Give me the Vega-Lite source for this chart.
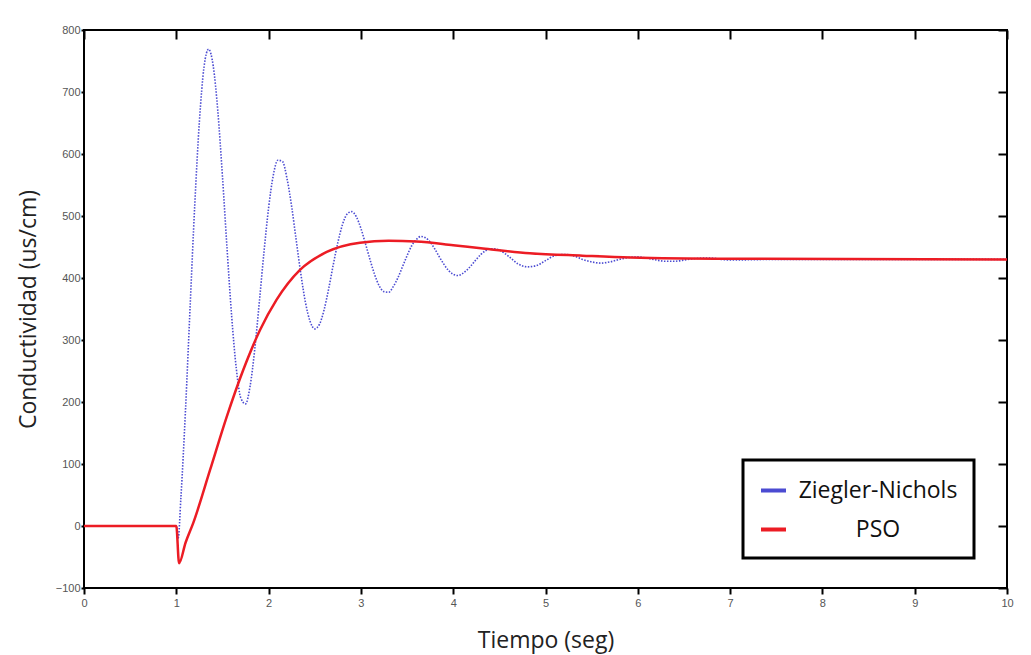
{
  "$schema": "https://vega.github.io/schema/vega-lite/v6.json",
  "width": 923,
  "height": 558,
  "autosize": {"type": "none"},
  "padding": {"left": 84, "top": 30, "right": 24, "bottom": 67},
  "background": "white",
  "datasets": {
    "zn": [
      {"t": 0, "y": 0}, {"t": 1.0, "y": 0}, {"t": 1.02, "y": -20}, {"t": 1.05, "y": 46},
      {"t": 1.10, "y": 188}, {"t": 1.15, "y": 355}, {"t": 1.20, "y": 518}, {"t": 1.25, "y": 652},
      {"t": 1.30, "y": 740}, {"t": 1.35, "y": 769}, {"t": 1.40, "y": 742}, {"t": 1.45, "y": 669},
      {"t": 1.50, "y": 564}, {"t": 1.55, "y": 447}, {"t": 1.60, "y": 338}, {"t": 1.65, "y": 254},
      {"t": 1.70, "y": 206}, {"t": 1.75, "y": 197}, {"t": 1.80, "y": 226}, {"t": 1.85, "y": 285},
      {"t": 1.90, "y": 362}, {"t": 1.95, "y": 442}, {"t": 2.00, "y": 513}, {"t": 2.05, "y": 565},
      {"t": 2.10, "y": 590}, {"t": 2.15, "y": 588}, {"t": 2.20, "y": 560}, {"t": 2.25, "y": 515},
      {"t": 2.30, "y": 460}, {"t": 2.35, "y": 406}, {"t": 2.40, "y": 360}, {"t": 2.45, "y": 330},
      {"t": 2.50, "y": 318}, {"t": 2.55, "y": 325}, {"t": 2.60, "y": 348}, {"t": 2.65, "y": 382},
      {"t": 2.70, "y": 421}, {"t": 2.75, "y": 457}, {"t": 2.80, "y": 486}, {"t": 2.85, "y": 503},
      {"t": 2.90, "y": 507}, {"t": 2.95, "y": 499}, {"t": 3.00, "y": 480}, {"t": 3.05, "y": 455},
      {"t": 3.10, "y": 429}, {"t": 3.15, "y": 405}, {"t": 3.20, "y": 387}, {"t": 3.25, "y": 378},
      {"t": 3.30, "y": 377}, {"t": 3.35, "y": 386}, {"t": 3.40, "y": 400}, {"t": 3.45, "y": 418},
      {"t": 3.50, "y": 436}, {"t": 3.55, "y": 452}, {"t": 3.60, "y": 462}, {"t": 3.65, "y": 467},
      {"t": 3.70, "y": 465}, {"t": 3.75, "y": 458}, {"t": 3.80, "y": 447}, {"t": 3.85, "y": 434},
      {"t": 3.90, "y": 422}, {"t": 3.95, "y": 412}, {"t": 4.00, "y": 406}, {"t": 4.05, "y": 404},
      {"t": 4.10, "y": 407}, {"t": 4.15, "y": 413}, {"t": 4.20, "y": 421}, {"t": 4.25, "y": 430},
      {"t": 4.30, "y": 438}, {"t": 4.35, "y": 444}, {"t": 4.40, "y": 447}, {"t": 4.45, "y": 447},
      {"t": 4.50, "y": 445}, {"t": 4.60, "y": 435}, {"t": 4.70, "y": 423}, {"t": 4.80, "y": 418},
      {"t": 4.90, "y": 420}, {"t": 5.00, "y": 428}, {"t": 5.10, "y": 436}, {"t": 5.20, "y": 438},
      {"t": 5.30, "y": 436}, {"t": 5.40, "y": 430}, {"t": 5.50, "y": 426}, {"t": 5.60, "y": 424},
      {"t": 5.70, "y": 426}, {"t": 5.80, "y": 430}, {"t": 5.90, "y": 433}, {"t": 6.00, "y": 434},
      {"t": 6.10, "y": 432}, {"t": 6.20, "y": 429}, {"t": 6.30, "y": 427}, {"t": 6.40, "y": 427},
      {"t": 6.50, "y": 429}, {"t": 6.60, "y": 431}, {"t": 6.70, "y": 432}, {"t": 6.80, "y": 432},
      {"t": 6.90, "y": 430}, {"t": 7.00, "y": 429}, {"t": 7.50, "y": 430}, {"t": 8.00, "y": 430},
      {"t": 9.00, "y": 430}, {"t": 10.0, "y": 430}
    ],
    "pso": [
      {"t": 0, "y": 0}, {"t": 1.0, "y": 0}, {"t": 1.03, "y": -60}, {"t": 1.10, "y": -27},
      {"t": 1.184, "y": 5}, {"t": 1.365, "y": 90}, {"t": 1.546, "y": 176}, {"t": 1.726, "y": 252},
      {"t": 1.907, "y": 316}, {"t": 2.087, "y": 365}, {"t": 2.34, "y": 413}, {"t": 2.63, "y": 442},
      {"t": 2.99, "y": 457}, {"t": 3.3, "y": 460}, {"t": 3.6, "y": 459}, {"t": 4.0, "y": 453},
      {"t": 4.3, "y": 448}, {"t": 4.83, "y": 440}, {"t": 5.4, "y": 436}, {"t": 5.92, "y": 433},
      {"t": 7.0, "y": 431}, {"t": 10.0, "y": 430}
    ]
  },
  "config": {
    "view": {"stroke": "black", "strokeWidth": 2},
    "axis": {
      "grid": false,
      "domain": false,
      "ticks": true,
      "tickColor": "#000000",
      "tickWidth": 2,
      "tickSize": 9,
      "labelFlush": false,
      "labelFont": "Liberation Sans",
      "labelFontSize": 11,
      "labelColor": "#555555",
      "titleFont": "Open Sans",
      "titleFontSize": 23,
      "titleFontWeight": "normal",
      "titleColor": "#222222"
    }
  },
  "resolve": {"axis": {"x": "independent", "y": "independent"}},
  "layer": [
    {
      "data": {"name": "zn"},
      "mark": {"type": "line", "strokeDash": [1.5, 1.5], "strokeWidth": 1.6, "interpolate": "monotone"},
      "encoding": {
        "x": {"field": "t", "type": "quantitative", "scale": {"domain": [0, 10], "nice": false},
              "axis": {"values": [0,1,2,3,4,5,6,7,8,9,10], "offset": 0, "tickSize": 6, "title": "Tiempo (seg)", "labelPadding": 3, "titlePadding": 21}},
        "y": {"field": "y", "type": "quantitative", "scale": {"domain": [-100, 800], "nice": false, "zero": false},
              "axis": {"values": [-100,0,100,200,300,400,500,600,700,800], "offset": 0, "tickSize": 3, "title": "Conductividad (us/cm)", "labelPadding": 1, "titlePadding": 15}},
        "color": {"datum": "Ziegler-Nichols", "type": "nominal",
                  "scale": {"domain": ["Ziegler-Nichols", "PSO"], "range": ["#4b4bd2", "#ec1c24"]},
                  "legend": {"orient": "none", "legendX": 659, "legendY": 430, "title": null,
                             "strokeColor": "black", "fillColor": "white",
                             "padding": 16, "symbolType": "stroke", "symbolSize": 625, "symbolStrokeWidth": 4,
                             "symbolDash": [1, 0],
                             "labelFont": "Open Sans", "labelFontSize": 23, "labelColor": "#111111",
                             "labelAlign": "center", "labelOffset": 90, "rowPadding": 12,
                             "encode": {"legend": {"update": {"strokeWidth": {"value": 3}}}}}}
      }
    },
    {
      "data": {"name": "pso"},
      "mark": {"type": "line", "strokeWidth": 2.5, "interpolate": "monotone"},
      "encoding": {
        "x": {"field": "t", "type": "quantitative",
              "axis": {"values": [0,1,2,3,4,5,6,7,8,9,10], "offset": -9, "labels": false, "title": null}},
        "y": {"field": "y", "type": "quantitative",
              "axis": {"values": [-100,0,100,200,300,400,500,600,700,800], "offset": -9, "labels": false, "title": null}},
        "color": {"datum": "PSO", "type": "nominal"}
      }
    }
  ]
}
